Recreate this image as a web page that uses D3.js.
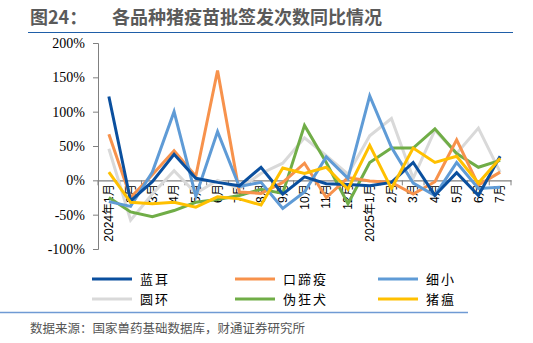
<!DOCTYPE html>
<html lang="zh-CN">
<head>
<meta charset="utf-8">
<script src="https://d3js.org/d3.v7.min.js"></script>
<style>
    body { margin: 0; background: #fff; }
    .title { font-family: "Noto Sans CJK SC", sans-serif; font-size: 18px; fill: #5a5a5a; font-weight: bold; }
    .ytick text { font-family: "Liberation Serif", serif; font-size: 14px; fill: #000; }
    .xtick text { font-family: "Liberation Sans", Arial, sans-serif; font-size: 12px; fill: #000; }
    .legend text { font-family: "Noto Sans CJK SC", sans-serif; font-size: 13px; fill: #000; }
    .source { font-family: "Noto Sans CJK SC", sans-serif; font-size: 12.5px; fill: #555; }
</style>
</head>
<body>
<div id="canvas"></div>
<script>
    var categories = ["2024年1月", "2月", "3月", "4月", "5月", "6月", "7月", "8月", "9月", "10月", "11月", "12月",
        "2025年1月", "2月", "3月", "4月", "5月", "6月", "7月"];
    var yTicks = [-1, -0.5, 0, 0.5, 1, 1.5, 2];

    // values in %
    var lanEr    = [122, -30, -2, 38, 3, -3, -8, 19, -20, 5, -5, -6, -8, -3, 26, -22, 11, -22, 35];
    var kouTiYi  = [67, -25, 8, 43, 6, 160, -17, -19, -3, 25, -25, 4, -1, -3, -20, -2, 59, -7, 12];
    var xiXiao   = [-31, -38, 12, 100, -23, 71, -9, -3, -41, -17, 34, 3, 123, 48, -4, -22, 26, -12, -10];
    var yuanHuan = [46, -58, -20, 14, -19, 0, -12, 10, 25, 62, 36, 9, 65, 90, 3, 73, 39, 76, 12];
    var weiKuang = [-25, -46, -53, -44, -32, -28, -22, -13, -19, 80, 26, -34, 26, 47, 47, 75, 39, 19, 29];
    var zhuWen   = [12, -32, -34, -32, -39, -24, -27, -36, 18, 10, 19, -13, 51, -12, 47, 26, 35, -4, 32];

    var seriesNames = ["蓝耳", "口蹄疫", "细小", "圆环", "伪狂犬", "猪瘟"];
    var seriesValues = [lanEr, kouTiYi, xiXiao, yuanHuan, weiKuang, zhuWen];
    var colors = ["#0a4f9e", "#f7924c", "#5f9bd6", "#d9d9d9", "#70ad47", "#ffc000"];
    // draw order: back to front
    var drawOrder = [3, 4, 1, 2, 0, 5];

    var svg = d3.select("#canvas").append("svg")
        .attr("width", 533)
        .attr("height", 343);

    // title
    svg.append("text").attr("class", "title").attr("x", 30).attr("y", 24).text("图24：");
    svg.append("text").attr("class", "title").attr("x", 112).attr("y", 24).text("各品种猪疫苗批签发次数同比情况");
    svg.append("line").attr("x1", 28).attr("x2", 513).attr("y1", 32.5).attr("y2", 32.5)
        .attr("stroke", "#1f5ea8").attr("stroke-width", 1.2);

    var plotLeft = 98, plotRight = 511, plotTop = 43, plotBottom = 249;

    var x = d3.scaleBand().domain(d3.range(categories.length)).range([plotLeft, plotRight]);
    var y = d3.scaleLinear().domain([-1, 2]).range([plotBottom, plotTop]);

    // y axis
    var yAxis = svg.append("g")
        .attr("class", "ytick")
        .attr("transform", "translate(" + plotLeft + ",0)")
        .call(d3.axisLeft(y).tickValues(yTicks).tickSize(5).tickPadding(8)
            .tickFormat(function (d) { return Math.round(d * 100) + "%"; }));
    yAxis.select(".domain").attr("stroke", "#808080");
    yAxis.selectAll(".tick line").attr("stroke", "#808080");

    // x axis at zero
    var xAxis = svg.append("g")
        .attr("class", "xtick")
        .attr("transform", "translate(0," + y(0) + ")")
        .call(d3.axisBottom(x).tickSize(0).tickFormat(function (i) { return categories[i]; }));
    xAxis.select(".domain").attr("stroke", "#808080").attr("stroke-width", 1.3);
    xAxis.selectAll(".tick text")
        .attr("transform", "rotate(-90)")
        .attr("text-anchor", "end")
        .attr("x", -4)
        .attr("y", 0)
        .attr("dy", "0.35em");
    // tick marks between categories
    svg.append("g").selectAll("line")
        .data(d3.range(categories.length + 1))
        .enter().append("line")
        .attr("x1", function (i) { return plotLeft + i * x.step(); })
        .attr("x2", function (i) { return plotLeft + i * x.step(); })
        .attr("y1", y(0))
        .attr("y2", y(0) + 5)
        .attr("stroke", "#808080");

    var line = d3.line()
        .x(function (d, i) { return x(i) + x.bandwidth() / 2; })
        .y(function (d) { return y(d / 100); });

    drawOrder.forEach(function (k) {
        svg.append("path")
            .datum(seriesValues[k])
            .attr("fill", "none")
            .attr("stroke", colors[k])
            .attr("stroke-width", 3)
            .attr("stroke-linejoin", "miter")
            .attr("d", line);
    });

    // legend
    var legend = svg.append("g").attr("class", "legend");
    seriesNames.forEach(function (name, k) {
        var col = k % 3, row = Math.floor(k / 3);
        var lx = 92 + col * 143, ly = 279 + row * 20;
        legend.append("line")
            .attr("x1", lx).attr("x2", lx + 40)
            .attr("y1", ly).attr("y2", ly)
            .attr("stroke", colors[k]).attr("stroke-width", 3);
        legend.append("text")
            .attr("x", lx + 48).attr("y", ly + 5)
            .attr("letter-spacing", "2px")
            .text(name);
    });

    svg.append("line").attr("x1", 0).attr("x2", 468).attr("y1", 312.5).attr("y2", 312.5)
        .attr("stroke", "#6f9ad4").attr("stroke-width", 1.5);
    svg.append("text").attr("class", "source").attr("x", 30).attr("y", 333)
        .text("数据来源：国家兽药基础数据库，财通证券研究所");
</script>
</body>
</html>
